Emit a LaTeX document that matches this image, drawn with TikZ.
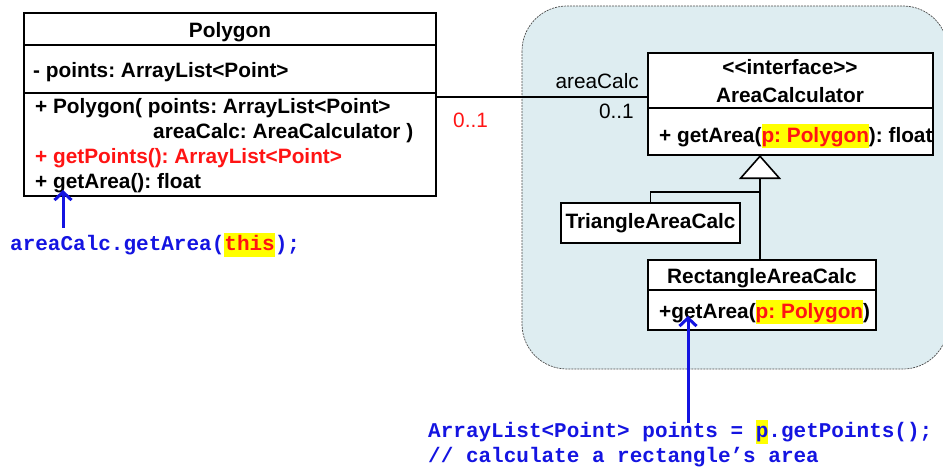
\documentclass[tikz,border=0pt]{standalone}
\usepackage{fontspec}
\setmainfont{Liberation Sans}
\newfontfamily\codefont{Liberation Mono}
\usetikzlibrary{arrows.meta,positioning}
\frenchspacing

\definecolor{umlred}{RGB}{255,20,20}
\definecolor{callblue}{RGB}{20,20,225}
\definecolor{hlyellow}{RGB}{255,255,0}
\definecolor{regionfill}{RGB}{222,237,241}

\newcommand{\umlsize}{\fontsize{20.8}{24}\selectfont}
% yellow marker behind a piece of text
\newcommand{\hlmark}[2]{{\setlength{\fboxsep}{0pt}\colorbox{hlyellow}{\rule[-#1]{0pt}{24pt}#2}}}

\begin{document}
\begin{tikzpicture}[x=1pt,y=-1pt,
    font=\umlsize,
    box/.style={draw,line width=1.8pt,fill=white,inner sep=0pt,outer sep=0pt},
    classname/.style={anchor=base,inner sep=0pt,font=\umlsize\bfseries},
    member/.style={anchor=base west,inner sep=0pt,font=\umlsize\bfseries},
    role/.style={inner sep=0pt},
    code/.style={anchor=base west,inner sep=0pt,text=callblue,
      font=\codefont\fontsize{21}{24}\selectfont\bfseries},
    link/.style={line width=1.6pt},
    gen/.style={line width=1.6pt,-{Triangle[open,length=24pt,width=42pt,fill=white]}},
    call/.style={draw=callblue,line width=3pt,-{Straight Barb[length=8pt,width=17pt]}}]

  \useasboundingbox (0,0) rectangle (943,469);

  % strategy region
  \draw[fill=regionfill,draw=black!70,line width=0.7pt,dash pattern=on 2pt off 1pt,
    rounded corners=45pt] (522,6) rectangle (948,369);

  % Polygon
  \node[box,minimum width=412pt,minimum height=32pt,anchor=north west] (poly_name) at (24,13) {};
  \node[box,minimum width=412pt,minimum height=48pt,below=0pt of poly_name] (poly_attr) {};
  \node[box,minimum width=412pt,minimum height=103pt,below=0pt of poly_attr] (poly_ops) {};
  \node[classname] (poly_title) at (230,37) {Polygon};
  \node[member] (poly_points) at (33,77) {- points: ArrayList<Point>};
  \node[member] (poly_ctor) at (35,113) {+ Polygon( points: ArrayList<Point>};
  \node[member] (poly_ctor2) at (153,138) {areaCalc: AreaCalculator )};
  \node[member,text=umlred] (poly_getpoints) at (35,163) {+ getPoints(): ArrayList<Point>};
  \node[member] (poly_getarea) at (35,188) {+ getArea(): float};

  % AreaCalculator
  \node[box,minimum width=285pt,minimum height=55pt,anchor=north west] (ac_name) at (648,53) {};
  \node[box,minimum width=285pt,minimum height=47pt,below=0pt of ac_name] (ac_ops) {};
  \node[classname] (ac_stereo) at (790,74) {<{}<interface>{}>};
  \node[classname] (ac_title) at (790,102) {AreaCalculator};
  \node[member] (ac_getarea) at (659,142)
    {+ getArea(\hlmark{5.5pt}{\color{umlred}p: Polygon}): float};

  % concrete calculators
  \node[box,minimum width=179pt,minimum height=40pt,anchor=north west,font=\umlsize\bfseries]
    (tri) at (561,203) {TriangleAreaCalc};
  \node[box,minimum width=228pt,minimum height=30pt,anchor=north west] (rect_name) at (648,260) {};
  \node[box,minimum width=228pt,minimum height=40pt,below=0pt of rect_name] (rect_ops) {};
  \node[classname] (rect_title) at (762,283) {RectangleAreaCalc};
  \node[member] (rect_getarea) at (659,318)
    {+getArea(\hlmark{5.5pt}{\color{umlred}p: Polygon})};

  % association
  \draw[link] ([yshift=-4pt]poly_ops.north east) -- ([yshift=-4pt]poly_ops.north east -| ac_name.west);
  \node[role,anchor=base east] (role_name) at (639,88) {areaCalc};
  \node[role,anchor=base east] (role_mult) at (634,118) {0..1};
  \node[role,anchor=base west,text=umlred] (poly_mult) at (453,127) {0..1};

  % generalisation
  \coordinate (gen_join) at (760,192);
  \draw[gen] (gen_join |- rect_name.north) -- (gen_join |- ac_ops.south);
  \draw[link] (tri.north) |- (gen_join);

  % calls
  \node[code] (poly_code) at (10,250) {areaCalc.getArea(\hlmark{7pt}{\color{umlred}this});};
  \node[code] (rect_code) at (428,437) {ArrayList<Point> points = \hlmark{7pt}{p}.getPoints();};
  \node[code] (rect_code2) at (428,462) {// calculate a rectangle’s area};
  \coordinate (poly_call) at (63,190);
  \coordinate (rect_call) at (688,316);
  \draw[call] ([yshift=5pt]poly_code.north -| poly_call) -- (poly_call);
  \draw[call] ([yshift=-3pt]rect_code.north -| rect_call) -- (rect_call);

\end{tikzpicture}
\end{document}
